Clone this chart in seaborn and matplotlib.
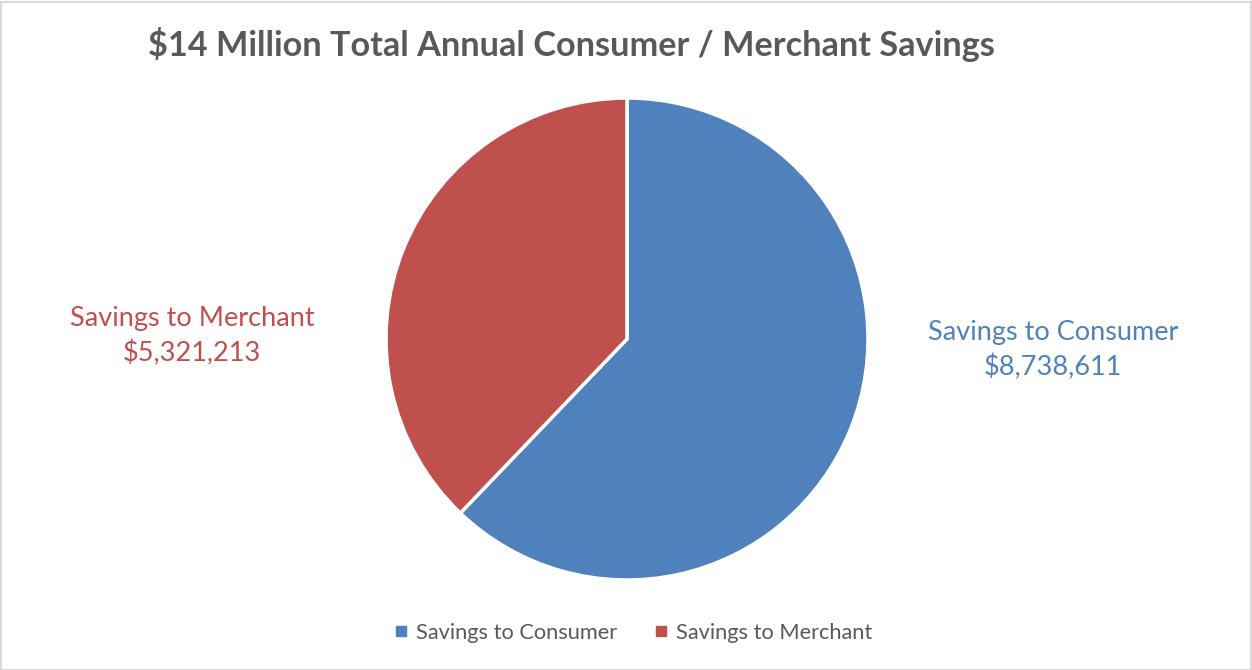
import matplotlib
matplotlib.use("Agg")
import matplotlib.pyplot as plt
from matplotlib.patches import Rectangle
from matplotlib.lines import Line2D
import seaborn as sns

categories = ["Savings to Consumer", "Savings to Merchant"]
values = [8738611, 5321213]
value_labels = ["$8,738,611", "$5,321,213"]
title = "$14 Million Total Annual Consumer / Merchant Savings"

sns.set_theme(style="white")
plt.rcParams["font.family"] = ["Lato", "DejaVu Sans"]
colors = ["#4F81BD", "#C0504D"]

W, H = 1252, 670
fig = plt.figure(figsize=(W / 100, H / 100), dpi=100)
fig.patch.set_facecolor("white")

cx, cy, r = 627, 339, 241
ax = fig.add_axes([(cx - r) / W, (H - cy - r) / H, 2 * r / W, 2 * r / H])
ax.pie(values, colors=colors, startangle=90, counterclock=False,
       wedgeprops=dict(edgecolor="white", linewidth=2.5), radius=1.0)
ax.set_xlim(-1, 1)
ax.set_ylim(-1, 1)
ax.set_aspect("equal")
ax.axis("off")

# data labels
fig.text(1053 / W, 1 - 350 / H, f"{categories[0]}\n{value_labels[0]}", color=colors[0],
         ha="center", va="center", fontsize=19.5, linespacing=1.45)
fig.text(192 / W, 1 - 336 / H, f"{categories[1]}\n{value_labels[1]}", color=colors[1],
         ha="center", va="center", fontsize=19.5, linespacing=1.45)

fig.text(148 / W, 1 - 45 / H, title, color="#595959", fontsize=24.7, fontweight="bold",
         ha="left", va="center")

handles = [Line2D([0], [0], marker="s", linestyle="", markersize=7,
                  markerfacecolor=c, markeredgecolor=c) for c in colors]
fig.legend(handles, categories, loc="center", bbox_to_anchor=(632 / W, 1 - 633 / H),
           ncol=2, frameon=False, fontsize=15.7, labelcolor="#595959",
           handletextpad=0.3, columnspacing=1.6, handlelength=0.8)

fig.patches.append(Rectangle((0.5 / W, 0.5 / H), 1 - 2 / W, 1 - 2 / H, transform=fig.transFigure,
                             fill=False, edgecolor="#D9D9D9", linewidth=1.5))

fig.savefig("out.png", dpi=100)
